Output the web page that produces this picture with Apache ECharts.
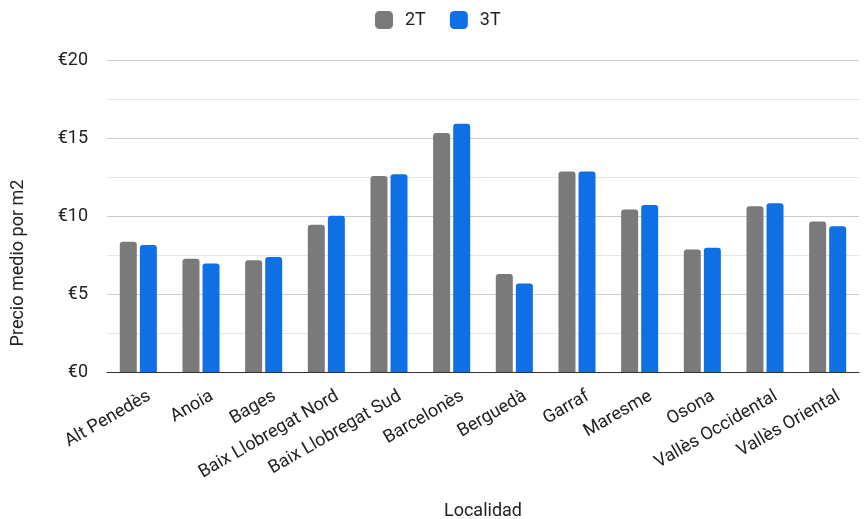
<!DOCTYPE html>
<html>
<head>
<meta charset="utf-8">
<script src="https://cdn.jsdelivr.net/npm/echarts@6/dist/echarts.min.js"></script>
<style>html,body{margin:0;padding:0;background:#fff}#c{width:864px;height:519px}</style>
</head>
<body>
<div id="c"></div>
<script>
const categories = ["Alt Penedès","Anoia","Bages","Baix Llobregat Nord","Baix Llobregat Sud","Barcelonès","Berguedà","Garraf","Maresme","Osona","Vallès Occidental","Vallès Oriental"];
const serie2T = [8.35, 7.26, 7.16, 9.44, 12.56, 15.32, 6.28, 12.86, 10.42, 7.86, 10.62, 9.64];
const serie3T = [8.14, 6.96, 7.37, 10.02, 12.67, 15.92, 5.68, 12.86, 10.70, 7.97, 10.81, 9.34];
const yTicks = [0, 5, 10, 15, 20];

const chart = echarts.init(document.getElementById('c'), null, {renderer: 'canvas'});
const font = 'Roboto, "Noto Sans", sans-serif';
chart.setOption({
  animation: false,
  textStyle: {fontFamily: font},
  legend: {
    top: 6, left: 370,
    itemWidth: 18, itemHeight: 18, itemGap: 24,
    icon: 'roundRect',
    textStyle: {fontSize: 18, color: '#222', fontFamily: font, padding: [0,0,0,7]},
    data: ['2T','3T']
  },
  grid: {left: 107, right: 5, top: 60, bottom: 147, containLabel: false, outerBoundsMode: 'none'},
  xAxis: {
    type: 'category',
    data: categories,
    name: 'Localidad',
    nameLocation: 'middle',
    nameGap: 130,
    nameTextStyle: {fontSize: 18, color: '#222', fontFamily: font},
    axisLine: {lineStyle: {color: '#333', width: 1}},
    axisTick: {show: false},
    axisLabel: {rotate: 30, fontSize: 18, lineHeight: 22, color: '#222', margin: 4, interval: 0, fontFamily: font,
      formatter: function (v) { return '\n\n' + v; }}
  },
  yAxis: {
    type: 'value',
    min: yTicks[0], max: yTicks[yTicks.length-1], interval: 5,
    name: 'Precio medio por m2',
    nameLocation: 'middle',
    nameGap: 80,
    nameRotate: 90,
    nameTextStyle: {fontSize: 18, color: '#222', fontFamily: font, padding: [0, 94, 0, 0]},
    axisLine: {show: false},
    axisTick: {show: false},
    axisLabel: {formatter: '€{value}', fontSize: 18, color: '#222', margin: 19, fontFamily: font},
    splitLine: {lineStyle: {color: '#cccccc', width: 1}},
    minorTick: {show: false, splitNumber: 2},
    minorSplitLine: {show: true, lineStyle: {color: '#e6e6e6', width: 1}}
  },
  series: [
    {name: '2T', type: 'bar', data: serie2T, barWidth: 17, barGap: '18%',
     itemStyle: {color: '#7a7a7a', borderRadius: [3,3,0,0]}},
    {name: '3T', type: 'bar', data: serie3T, barWidth: 17, barGap: '18%',
     itemStyle: {color: '#0f70e6', borderRadius: [3,3,0,0]}}
  ]
});
</script>
</body>
</html>
